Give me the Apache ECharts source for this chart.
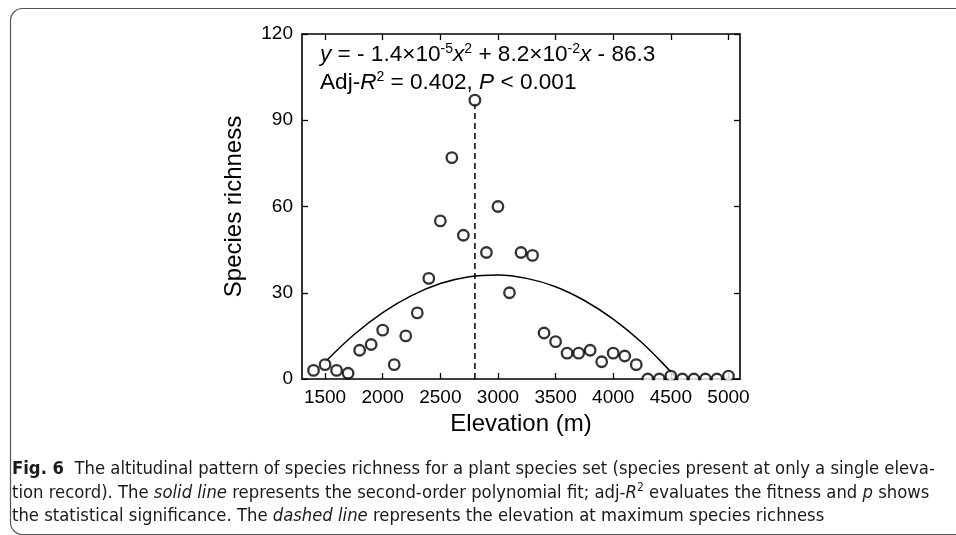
<!DOCTYPE html>
<html>
<head>
<meta charset="utf-8">
<script src="https://cdn.jsdelivr.net/npm/echarts@6/dist/echarts.min.js"></script>
<style>
html,body{margin:0;padding:0;background:#fff;}
#c{width:956px;height:535px;}
</style>
</head>
<body>
<div id="c"></div>
<script>
// ---- data ----
const elevations = [1400,1500,1600,1700,1800,1900,2000,2100,2200,2300,2400,2500,2600,2700,2800,2900,3000,3100,3200,3300,3400,3500,3600,3700,3800,3900,4000,4100,4200,4300,4400,4500,4600,4700,4800,4900,5000];
const richness   = [3,5,3,2,10,12,17,5,15,23,35,55,77,50,97,44,60,30,44,43,16,13,9,9,10,6,9,8,5,0,0,1,0,0,0,0,1];
// fitted curve
const fitElevation = [1500,1750,2000,2250,2500,2750,3000,3250,3500,3750,4000,4250,4500,4550];
const fitRichness  = [5.9,15.4,23.1,29.0,33.2,35.6,36.2,35.0,32.1,27.3,20.8,12.6,2.5,0.2];
// elevation at maximum richness
const peakElevation = [2800, 2800];
const peakRichness  = [0, 97];
const xTicks = [1500,2000,2500,3000,3500,4000,4500,5000];

const chart = echarts.init(document.getElementById('c'), null, {renderer:'canvas'});
const F = '"Liberation Sans", Arial, sans-serif';
const CF = '"Liberation Sans Narrow", "DejaVu Sans Condensed", "Noto Sans", sans-serif';

const zip = (a,b) => a.map((v,i)=>[v,b[i]]);

const axisLineStyle = {color:'#000', width:1.6};

chart.setOption({
  animation:false,
  backgroundColor:'#fff',
  grid:{left:302, right:216, top:34, bottom:156, containLabel:false},
  xAxis:[{
    type:'value', min:1300, max:5100, position:'bottom',
    axisLine:{show:true, onZero:false, lineStyle:axisLineStyle},
    axisTick:{show:true, inside:true, length:6, lineStyle:{color:'#000', width:1.3}, customValues:xTicks},
    axisLabel:{show:true, customValues:xTicks, color:'#000', fontSize:19, fontFamily:F, margin:9, formatter:v=>String(v)},
    splitLine:{show:false},
    name:'Elevation (m)', nameLocation:'middle', nameGap:32,
    nameTextStyle:{color:'#000', fontSize:24, fontFamily:F}
  },{
    type:'value', min:1300, max:5100, position:'top',
    axisLine:{show:true, onZero:false, lineStyle:axisLineStyle},
    axisTick:{show:true, inside:true, length:6, lineStyle:{color:'#000', width:1.3}, customValues:xTicks},
    axisLabel:{show:false},
    splitLine:{show:false}
  }],
  yAxis:[{
    type:'value', min:0, max:120, interval:30, position:'left',
    axisLine:{show:true, onZero:false, lineStyle:axisLineStyle},
    axisTick:{show:true, inside:true, length:6, lineStyle:{color:'#000', width:1.3}},
    axisLabel:{show:true, color:'#000', fontSize:19, fontFamily:F, margin:9},
    splitLine:{show:false},
    name:'Species richness', nameLocation:'middle', nameGap:56, nameRotate:90,
    nameTextStyle:{color:'#000', fontSize:24, fontFamily:F}
  },{
    type:'value', min:0, max:120, interval:30, position:'right',
    axisLine:{show:true, onZero:false, lineStyle:axisLineStyle},
    axisTick:{show:true, inside:true, length:6, lineStyle:{color:'#000', width:1.3}},
    axisLabel:{show:false},
    splitLine:{show:false}
  }],
  series:[
    {
      type:'line', data:zip(peakElevation, peakRichness), symbol:'none', z:2,
      lineStyle:{color:'#000', width:1.5, type:[6,4]}
    },
    {
      type:'line', data:zip(fitElevation, fitRichness), symbol:'none', smooth:0.4, z:3,
      lineStyle:{color:'#000', width:1.5}
    },
    {
      type:'scatter', data:zip(elevations, richness), symbol:'circle', symbolSize:10.5, z:5, clip:true,
      itemStyle:{color:'#fff', borderColor:'#000', borderWidth:2.3}
    }
  ],
  graphic:[
    {
      type:'rect', left:8, top:6, z:-10, silent:true,
      shape:{x:0, y:0, width:970, height:526, r:[12,0,0,12]},
      style:{fill:'none', stroke:'#555', lineWidth:1.2}
    },
    // mask below the plot area so markers sitting on the x axis are cut by it
    {
      type:'rect', left:300, top:380.2, z:100, silent:true,
      shape:{x:0, y:0, width:442, height:7},
      style:{fill:'#fff'}
    },
    {
      type:'text', left:320, top:42, z:20,
      style:{
        text:'{i|y} = - 1.4×10{s|-5}{i|x}{s|2} + 8.2×10{s|-2}{i|x} - 86.3',
        font:'22.6px '+F, fill:'#000',
        rich:{
          i:{fontStyle:'italic', fontSize:22.6, fontFamily:F, lineHeight:26},
          s:{fontSize:14, fontFamily:F, verticalAlign:'top', lineHeight:26, padding:[0,0,10,0]}
        }
      }
    },
    {
      type:'text', left:320, top:70, z:20,
      style:{
        text:'Adj-{i|R}{s|2} = 0.402, {i|P} < 0.001',
        font:'22.6px '+F, fill:'#000',
        rich:{
          i:{fontStyle:'italic', fontSize:22.6, fontFamily:F, lineHeight:26},
          s:{fontSize:14, fontFamily:F, verticalAlign:'top', lineHeight:26, padding:[0,0,10,0]}
        }
      }
    },
    {
      type:'text', left:12, top:458, z:20,
      style:{
        text:'{b|Fig. 6}  The altitudinal pattern of species richness for a plant species set (species present at only a single eleva-\n'+
             'tion record). The {i|solid line} represents the second-order polynomial fit; adj-{i|R}{s|2} evaluates the fitness and {i|p} shows\n'+
             'the statistical significance. The {i|dashed line} represents the elevation at maximum species richness',
        font:'18.3px '+CF, fill:'#1a1a1a', lineHeight:23.5,
        rich:{
          b:{fontWeight:'bold', fontSize:18.3, fontFamily:CF, fill:'#1a1a1a', lineHeight:23.5},
          i:{fontStyle:'italic', fontSize:18.3, fontFamily:CF, fill:'#1a1a1a', lineHeight:23.5},
          s:{fontSize:12, fontFamily:CF, fill:'#1a1a1a', verticalAlign:'top', lineHeight:23.5}
        }
      }
    }
  ]
});
</script>
</body>
</html>
